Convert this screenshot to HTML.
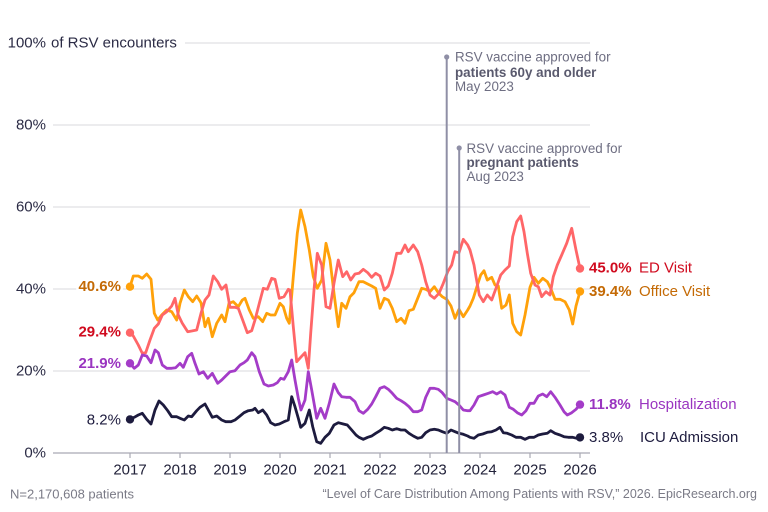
<!DOCTYPE html>
<html>
<head>
<meta charset="utf-8">
<style>
  html, body { margin: 0; padding: 0; background: #ffffff; }
  body { width: 768px; height: 512px; overflow: hidden; }
  svg { display: block; font-family: "Liberation Sans", sans-serif; }
  .halo { paint-order: stroke; stroke: #ffffff; stroke-width: 5px; stroke-linejoin: round; }
</style>
</head>
<body>
<svg width="768" height="512" viewBox="0 0 768 512" xmlns="http://www.w3.org/2000/svg">
  <!-- gridlines -->
  <g stroke="#d9d9de" stroke-width="1">
    <line x1="185" y1="43" x2="590" y2="43"/>
    <line x1="53" y1="125" x2="590" y2="125"/>
    <line x1="53" y1="207" x2="590" y2="207"/>
    <line x1="53" y1="289" x2="590" y2="289"/>
    <line x1="53" y1="371" x2="590" y2="371"/>
  </g>
  <!-- baseline and ticks -->
  <g stroke="#a9a9b4" stroke-width="1.2">
    <line x1="53" y1="453" x2="590" y2="453"/>
    <line x1="130" y1="453" x2="130" y2="458"/>
    <line x1="180" y1="453" x2="180" y2="458"/>
    <line x1="230" y1="453" x2="230" y2="458"/>
    <line x1="280" y1="453" x2="280" y2="458"/>
    <line x1="330" y1="453" x2="330" y2="458"/>
    <line x1="380" y1="453" x2="380" y2="458"/>
    <line x1="430" y1="453" x2="430" y2="458"/>
    <line x1="480" y1="453" x2="480" y2="458"/>
    <line x1="530" y1="453" x2="530" y2="458"/>
    <line x1="580" y1="453" x2="580" y2="458"/>
  </g>

  <!-- y axis labels -->
  <g font-size="15" fill="#2b2b45" text-anchor="end" dominant-baseline="central">
    <text x="46" y="43">100%</text>
    <text x="46" y="125">80%</text>
    <text x="46" y="207">60%</text>
    <text x="46" y="289">40%</text>
    <text x="46" y="371">20%</text>
    <text x="46" y="453">0%</text>
  </g>
  <text x="51" y="43" font-size="15" fill="#2b2b45" dominant-baseline="central">of RSV encounters</text>

  <!-- x axis labels -->
  <g font-size="15" fill="#22223a" text-anchor="middle" dominant-baseline="central">
    <text x="130" y="470">2017</text>
    <text x="180" y="470">2018</text>
    <text x="230" y="470">2019</text>
    <text x="280" y="470">2020</text>
    <text x="330" y="470">2021</text>
    <text x="380" y="470">2022</text>
    <text x="430" y="470">2023</text>
    <text x="480" y="470">2024</text>
    <text x="530" y="470">2025</text>
    <text x="580" y="470">2026</text>
  </g>

  <!-- series -->
  <g fill="none" stroke-width="2.8" stroke-linejoin="round" stroke-linecap="round">
    <polyline stroke="#FFA10A" points="130,286.7 133.3,276 138.3,276 142.3,278.3 146.7,274 151,279.3 154.3,313.3 157.7,320 161.7,315 166.7,310 171.7,311.7 176.7,320 180,303.3 184.3,290 188.3,296.7 192.7,301.7 196.7,296 201,302.7 205,326.7 208.3,318.3 212.3,336.7 216.7,323.3 221.7,315 225,321.7 229,303.3 233.3,301.7 238.3,306.7 242.3,300 245,298.3 249.3,310 253.3,318.3 258.3,316.7 262.7,321.7 266.7,313.3 270.7,315 275,315 280,303.3 283.3,306.7 286.7,318.3 289.3,323.3 293.3,276.7 297.3,233.3 300.7,210 305,226.7 309.3,250 313.3,276.7 317.3,288.3 321.7,280 326,243.3 330,260 334,293.3 338.3,326.7 341.7,303.3 346,308.3 350,296.7 354,292.7 359,281.7 363.3,281.7 367.7,284 371.7,286 375.7,288.3 380,308.3 384.3,298.3 388.3,300 392.3,308.3 396.7,321.7 401,318.3 405,323.3 409,310.7 413.3,309.3 417.7,298.3 421.7,288.3 425.7,289.3 430,291.7 434.3,286.7 438.3,292.7 442.3,296.7 446.7,299.3 451,306 455,318.3 459,309.3 463.3,316.7 467.7,310 470,306 473.3,298.3 476.7,287.3 480.7,275 484,270.7 487.3,280 491.7,277.3 495,285 498.3,286 501.7,308.3 506,305 509.3,295 512.7,323.3 516.7,331.7 520.7,335 525,315 530,287.3 534,277.3 538.3,283.3 542.7,278.3 547.3,281.7 550.7,288.3 555,299.3 560,299.3 565,301.7 569.3,310 572.7,324 576,306 580,291.5"/>
    <polyline stroke="#FF6668" points="130,332.7 133.3,336 138.3,345 142.3,353.3 145.7,352.7 150,340 154.3,328.3 158.3,324 162.3,315 166.7,311.7 171.7,306 175,298.3 178.3,315 182.3,323.3 187.7,331.7 191.7,331 196.7,330 201,313.3 205,300 209,295 213.3,276 217.7,281.7 221.7,289.3 226,285 230,307.3 235,307.3 238.3,308.3 243.3,321.7 247.3,332.7 251.7,330.7 255,320 259.3,303.3 263.3,288.3 267.3,289.3 271.7,278.3 275,279.3 279.3,298.3 284,296.7 288.3,289.3 290,290 293.3,326.7 296.7,361.7 300.7,357.3 305,352.7 308.3,368.3 310.7,333.3 314,290 317.3,253.3 321.7,265 326,306.7 330,308.3 334,283.3 338.3,260 342.7,276.7 346.7,271.7 350.7,280 355,274 359,273.3 363.3,269.3 367.7,272.7 371.7,277.3 375.7,273.3 380,276 384.3,290 388.3,286 392.3,273.3 396.7,253.3 401,253.3 405,245 408.3,251.7 413.3,245 417.7,251.7 421.7,265 425.7,281.7 430,295 434.3,298.3 439,293.3 443.3,283.3 447.7,271.7 451.7,265 455,251.7 459,252.7 463.3,239.3 467.7,245 470,250 474,265 476,276.7 479.3,295 483.3,301.7 487.3,295 491.7,300 496,288.3 500.7,275 505,270 509.3,266 512.7,236.7 516.7,221.7 520.7,216 524,231.7 527.3,253.3 530.7,273.3 535,285 538.3,286.7 541.7,296.7 546,291.7 550,295 553.3,276.7 557.3,265 561.7,255 566.7,243.3 571.7,228.3 576,250 580,268.5"/>
    <polyline stroke="#A43CC8" points="130,363.3 134.3,368.3 138.3,365 142.3,355 146.7,356 151,362.7 155,350 158.3,352.7 162.3,365 166.7,368.3 171.7,368.3 175.7,367.7 180,363.3 183.3,367.3 187.7,356.7 191.7,353.3 195,363.3 199,374 203.3,371.7 207.7,378.3 212.3,373.3 217.7,383.3 221.7,380 225.7,376 230,371.7 235,370.7 240,365 244,362.7 247.3,360 251.7,352.7 255,356.7 259.3,371.7 264,384 268.3,386 273.3,385 277.3,382.7 280.7,378.3 284,379.3 288.3,371.7 291.7,360 295,380 298.3,398.3 301,410 305,400 308.3,371.7 311.7,390 316.7,418.3 320.7,408.3 325,418.3 329.3,403.3 334,384 338.3,392.7 341.7,396.7 346,397.3 350,397.3 355,401.7 359,410.7 363.3,413.3 367.7,409.3 371.7,404 375.7,396.7 380,388.3 384.3,386.7 388.3,389.3 392.3,393.3 396.7,398.3 401,400.7 405,403.3 409,406.7 413.3,411.7 417.7,411.7 421.7,410 425.7,397.3 430,388.3 434.3,388.3 438.3,389.3 442.3,392.7 446.7,398.3 451,400 455,401.7 459,405 463.3,410 467.7,410.7 470,410.7 474,405 478.3,396.7 483.3,395 488.3,393.3 492.7,391.7 496.7,394 500.7,391.7 505,395 509.3,407.3 513.3,409.3 517.3,412.7 521.7,415 526,410.7 530,403.3 534,403.3 538.3,396 542.7,394 546.7,396.7 550.7,391.7 555,397.3 560,405 564,411.7 567.3,415 571.7,412.7 576,409.3 580,404.6"/>
    <polyline stroke="#1D1B3E" points="130,419.4 134.3,417.3 138.3,415 142.3,413.3 146.7,419.3 151,424 155,410 159,401 163.3,405 167.7,410.7 171.7,416.7 176.7,416.7 180,418.3 184.3,420 188.3,416 191.7,416.7 196.7,410.7 200,407.3 205,404 208.3,410 212.3,417.3 216.7,416 221.7,420 225.7,421.7 231,421.7 235,420 240,416 244,412.7 248.3,410.7 252.7,410 255,408.3 258.3,412.7 262.7,410 266.7,415 270.7,422.7 275,425 279.3,424 284,421.7 288.3,420 291.7,396.7 295,406.7 298.3,418.3 300.7,427.3 305,423.3 309.3,410 312.7,426.7 316.7,441.7 320.7,443.3 325,437.3 329.3,433.3 334,425 338.3,422.7 343.3,424 347.3,425 351.7,430 356,435 359,437.3 363.3,439.3 367.7,437.3 371.7,436 375.7,433.3 380,430.7 384.3,427.3 388.3,428.3 392.3,430 396.7,428.7 401,430 405,430 409,433.3 413.3,436 417.7,438.3 421.7,437.3 425.7,432.7 430,430 434.3,429.3 438.3,430 442.3,431.7 446.7,433.3 451,430 455,431.7 459,433.3 463.3,434.3 467.7,436 470,437.3 474,438.3 478.3,435 482.7,434 487.3,432.3 491.7,431.7 496,430 500,427.3 503.3,432.7 507.3,433.3 511.7,435 516,437.3 520.7,437.3 525,439.3 529.3,437.3 534,437.3 538.3,435 542.7,434 547.3,433.3 550.7,430.7 555,433.3 560,435 564,436.7 568.3,437.3 572.7,437.3 576.7,438.3 580,437.4"/>
  </g>

  <!-- endpoint dots -->
  <g>
    <circle cx="130" cy="286.7" r="4.2" fill="#FFA10A"/>
    <circle cx="130" cy="332.7" r="4.2" fill="#FF6668"/>
    <circle cx="130" cy="363.3" r="4.2" fill="#A43CC8"/>
    <circle cx="130" cy="419.4" r="4.2" fill="#1D1B3E"/>
    <circle cx="580" cy="268.5" r="4.2" fill="#FF6668"/>
    <circle cx="580" cy="291.5" r="4.2" fill="#FFA10A"/>
    <circle cx="580" cy="404.6" r="4.2" fill="#A43CC8"/>
    <circle cx="580" cy="437.4" r="4.2" fill="#1D1B3E"/>
  </g>

  <!-- vaccine annotation lines -->
  <g stroke="#8f8fa6" stroke-width="2">
    <line x1="446.7" y1="57" x2="446.7" y2="453"/>
    <line x1="459.2" y1="148" x2="459.2" y2="453"/>
  </g>
  <circle cx="446.7" cy="57" r="2.6" fill="#8f8fa6"/>
  <circle cx="459.2" cy="148" r="2.6" fill="#8f8fa6"/>

  <g font-size="13.4" fill="#6e6e82">
    <text x="455" y="61.5">RSV vaccine approved for</text>
    <text x="455" y="77" font-weight="bold" fill="#5a5a6e">patients 60y and older</text>
    <text x="455" y="91">May 2023</text>
    <text x="466.5" y="153">RSV vaccine approved for</text>
    <text x="466.5" y="167" font-weight="bold" fill="#5a5a6e">pregnant patients</text>
    <text x="466.5" y="181">Aug 2023</text>
  </g>

  <!-- left labels -->
  <g font-size="15" font-weight="bold" text-anchor="end" dominant-baseline="central" class="halo">
    <text x="121" y="286.5" fill="#C46A05">40.6%</text>
    <text x="121" y="332" fill="#D00A1E">29.4%</text>
    <text x="121" y="363.5" fill="#9A35C0">21.9%</text>
    <text x="121" y="420" fill="#1D1B3E" font-weight="normal">8.2%</text>
  </g>

  <!-- right labels -->
  <g font-size="15" dominant-baseline="central">
    <text x="589" y="268" fill="#D00A1E" font-weight="bold">45.0%</text>
    <text x="639" y="268" fill="#D00A1E">ED Visit</text>
    <text x="589" y="291.5" fill="#C46A05" font-weight="bold">39.4%</text>
    <text x="639" y="291.5" fill="#C46A05">Office Visit</text>
    <text x="589" y="404.5" fill="#9A35C0" font-weight="bold">11.8%</text>
    <text x="639" y="404.5" fill="#9A35C0">Hospitalization</text>
    <text x="589" y="437.5" fill="#1D1B3E">3.8%</text>
    <text x="640" y="437.5" fill="#1D1B3E">ICU Admission</text>
  </g>

  <!-- footer -->
  <g fill="#7a7a86" dominant-baseline="central">
    <text x="10" y="494" font-size="13">N=2,170,608 patients</text>
    <text x="757" y="494" font-size="12.5" text-anchor="end">“Level of Care Distribution Among Patients with RSV,” 2026. EpicResearch.org</text>
  </g>
</svg>
</body>
</html>
